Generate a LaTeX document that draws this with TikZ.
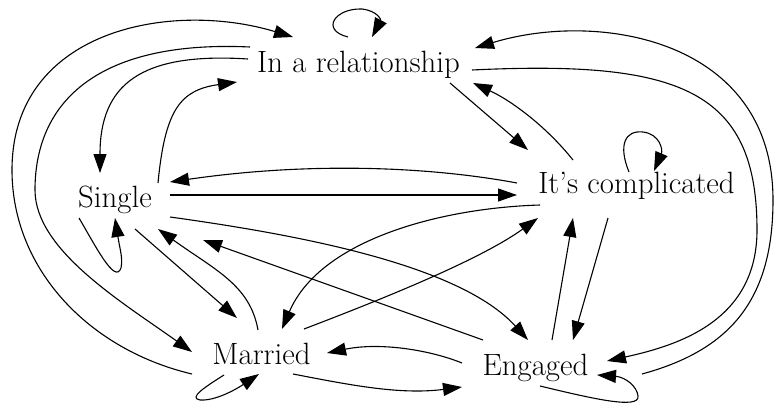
\documentclass[tikz,border=0pt]{standalone}
\usepackage{fontspec}
\setmainfont{Latin Modern Roman}
\usetikzlibrary{arrows.meta,calc}
\begin{document}
\begin{tikzpicture}[x=1pt,y=-1pt,
  edge/.style={line width=1.1pt,-{Triangle[length=19pt,width=13pt]}},
  lbl/.style={anchor=base,inner sep=0pt,font=\fontsize{30.8}{36}\selectfont}]
\useasboundingbox (0,0) rectangle (774,402);
\node[lbl] (R) at (358.5,72) {In a relationship};
\node[lbl] (S) at (115,207) {Single};
\node[lbl] (C) at (636.5,193) {It’s complicated};
\node[lbl] (M) at (261.5,364) {Married};
\node[lbl] (E) at (535.5,375) {Engaged};
% R
\draw[edge] ($(R.base)+(-10.5,-35)$) .. controls (320,30) and (335,8) .. (362,9) .. controls (378,11) and (381,20) .. ($(R.base)+(13.5,-35)$);
\draw[edge] ($(M.base)+(-69.5,10)$) .. controls (90,350) and (12,270) .. (12,170) .. controls (12,30) and (170,0) .. ($(R.base)+(-65.5,-35)$);
\draw[edge] ($(R.base)+(-108.5,-25)$) .. controls (100,40) and (35,100) .. (35,190) .. controls (35,250) and (122,302) .. ($(M.base)+(-69.5,-12)$);
\draw[edge] ($(R.base)+(-110.5,-13)$) .. controls (140,52) and (100,85) .. ($(S.base)+(-15,-34)$);
\draw[edge] ($(S.base)+(43,-24)$) .. controls (165,110) and (180,90) .. ($(R.base)+(-121.5,10)$);
\draw[edge] ($(C.base)+(-119.5,-10)$) .. controls (420,165) and (300,163) .. ($(S.base)+(55,-25)$);
\draw[edge] ($(S.base)+(55,-12)$) -- ($(C.base)+(-119.5,2)$);
\draw[edge] ($(R.base)+(91.5,11)$) -- ($(C.base)+(-108.5,-43)$);
\draw[edge] ($(C.base)+(-63.5,-33)$) .. controls (545,125) and (510,100) .. ($(R.base)+(114.5,11)$);
\draw[edge] ($(C.base)+(-7.5,-21)$) .. controls (618,145) and (625,130) .. (643,132) .. controls (660,134) and (663,150) .. ($(C.base)+(17.5,-22)$);
\draw[edge] ($(R.base)+(113.5,-2)$) .. controls (680,60) and (757,90) .. (757,230) .. controls (757,320) and (680,345) .. ($(E.base)+(71.5,-14)$);
\draw[edge] ($(E.base)+(106.5,-1)$) .. controls (730,350) and (773,300) .. (773,200) .. controls (773,40) and (600,10) .. ($(R.base)+(116.5,-24)$);
% S
\draw[edge] ($(S.base)+(-36,11)$) .. controls (95,245) and (115,285) .. (121,268) .. controls (123,258) and (120,250) .. ($(S.base)+(0,11)$);
\draw[edge] ($(S.base)+(20,22)$) -- ($(M.base)+(-24.5,-46)$);
\draw[edge] ($(M.base)+(-3.5,-34)$) .. controls (250,285) and (215,270) .. ($(S.base)+(43,22)$);
\draw[edge] ($(E.base)+(-52.5,-35)$) -- ($(S.base)+(88,33)$);
\draw[edge] ($(S.base)+(55,10)$) .. controls (300,235) and (460,265) .. ($(E.base)+(-7.5,-35)$);
% C, M, E
\draw[edge] ($(C.base)+(-96.5,12)$) .. controls (440,208) and (320,240) .. ($(M.base)+(20.5,-35)$);
\draw[edge] ($(M.base)+(42.5,-35)$) .. controls (380,300) and (480,260) .. ($(C.base)+(-98.5,25)$);
\draw[edge] ($(E.base)+(-73.5,-12)$) .. controls (430,350) and (380,342) .. ($(M.base)+(65.5,-11)$);
\draw[edge] ($(M.base)+(31.5,10)$) .. controls (350,385) and (400,395) .. ($(E.base)+(-73.5,12)$);
\draw[edge] ($(M.base)+(-37.5,11)$) .. controls (205,387) and (188,398) .. (200,400) .. controls (215,401) and (235,390) .. ($(M.base)+(-2.5,10)$);
\draw[edge] ($(E.base)+(16.5,-35)$) -- ($(C.base)+(-63.5,25)$);
\draw[edge] ($(C.base)+(-28.5,25)$) -- ($(E.base)+(37.5,-35)$);
\draw[edge] ($(E.base)+(4.5,11)$) .. controls (590,398) and (640,410) .. (638,396) .. controls (637,386) and (625,377) .. ($(E.base)+(61.5,0)$);
\end{tikzpicture}
\end{document}
